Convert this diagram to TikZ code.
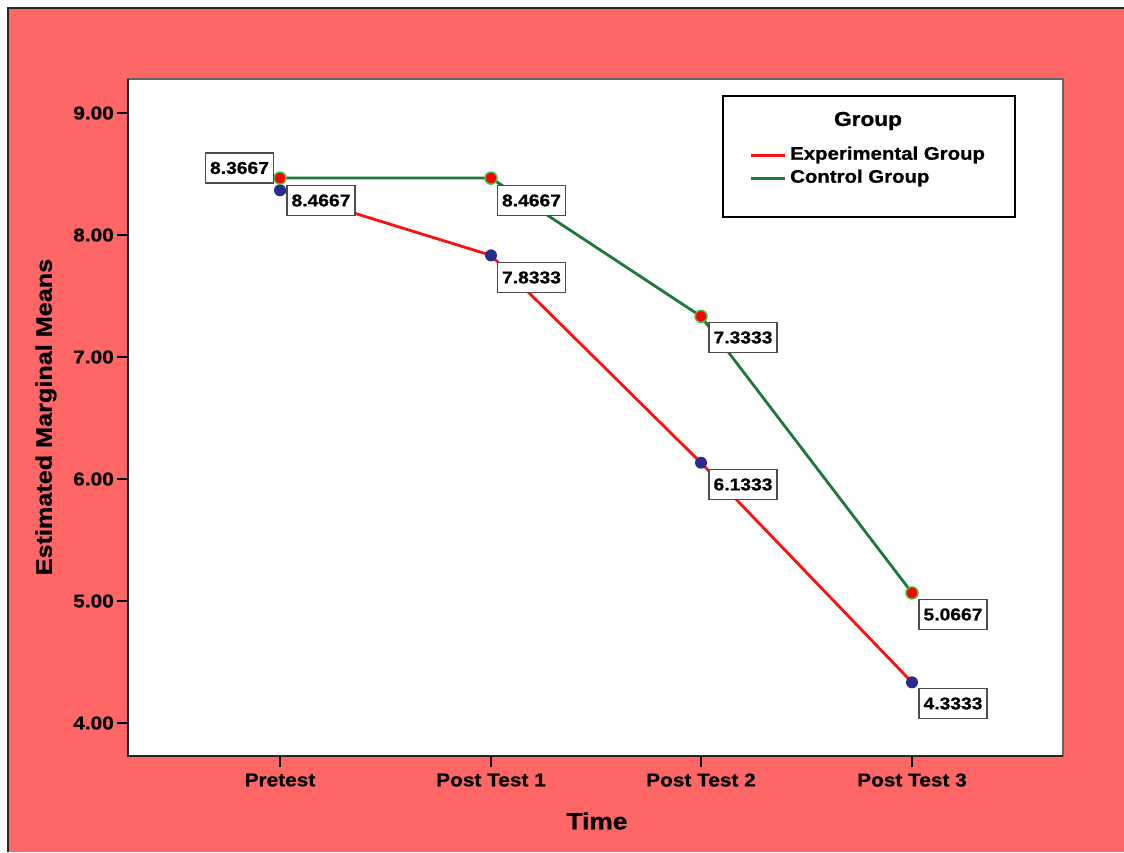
\documentclass[tikz,border=0pt]{standalone}
\usepackage{fontspec}
\setmainfont{Liberation Sans}[FakeStretch=1.12, BoldFeatures={FakeBold=0.8}]
\definecolor{bg}{RGB}{255,102,102}
\definecolor{ctrl}{RGB}{30,120,60}
\definecolor{expred}{RGB}{255,15,15}
\definecolor{navy}{RGB}{40,45,140}
\definecolor{ring}{RGB}{70,190,70}
\begin{document}
\begin{tikzpicture}[x=1pt,y=-1pt,
  ticklab/.style={font=\fontsize{18.6}{20}\selectfont\bfseries, inner sep=0pt},
  vallab/.style={draw=black!70, line width=1.6pt, fill=white, minimum width=68pt, minimum height=30pt, inner sep=0pt, font=\fontsize{17.2}{18}\selectfont\bfseries},
  bluedot/.style={circle, fill=navy, minimum size=12pt, inner sep=0pt},
  reddot/.style={circle, fill=red, draw=ring, line width=1.5pt, minimum size=12pt, inner sep=0pt},
  expline/.style={draw=expred, line width=2.8pt},
  ctrlline/.style={draw=ctrl, line width=2.8pt},
  tick/.style={line width=1.6pt, black}]
\useasboundingbox (0,0) rectangle (1124,852);
% background
\fill[white] (0,0) rectangle (1124,852);
\fill[bg] (8,8) rectangle (1124,852);
\draw[line width=2pt, black!85] (8,852) -- (8,8) -- (1124,8);
% plot area
\fill[white] (128,79) rectangle (1063,756);
\draw[line width=1.6pt, black!60] (128,79) rectangle (1063,756);
\draw[line width=2pt, black!85] (128,79) -- (128,756) -- (1063,756);
% y ticks
\foreach \v/\lab in {9/9.00,8/8.00,7/7.00,6/6.00,5/5.00,4/4.00}{
  \draw[tick] (117,{113+(9-\v)*122}) -- (128,{113+(9-\v)*122});
  \node[ticklab, anchor=east] (yt\v) at (114,{113+(9-\v)*122}) {\lab};
}
% x ticks
\foreach \i/\xx/\lab in {1/280/Pretest,2/491/Post Test 1,3/701/Post Test 2,4/912/Post Test 3}{
  \draw[tick] (\xx,756) -- (\xx,767);
  \node[ticklab] (xt\i) at (\xx,780) {\lab};
}
% axis titles
\node[rotate=90, font=\fontsize{22.5}{24}\selectfont\bfseries] (ytitle) at (46,417) {Estimated Marginal Means};
\node[font=\fontsize{23.5}{25}\selectfont\bfseries] (xtitle) at (597,821) {Time};
% data coordinates
\coordinate (e1) at (280,{113+(9-8.3667)*122});
\coordinate (e2) at (491,{113+(9-7.8333)*122});
\coordinate (e3) at (701,{113+(9-6.1333)*122});
\coordinate (e4) at (912,{113+(9-4.3333)*122});
\coordinate (c1) at (280,{113+(9-8.4667)*122});
\coordinate (c2) at (491,{113+(9-8.4667)*122});
\coordinate (c3) at (701,{113+(9-7.3333)*122});
\coordinate (c4) at (912,{113+(9-5.0667)*122});
% lines
\draw[expline] (e1) -- (e2) -- (e3) -- (e4);
\draw[ctrlline] (c1) -- (c2) -- (c3) -- (c4);
% markers
\foreach \k in {1,2,3,4}{
  \node[bluedot] (me\k) at (e\k) {};
  \node[reddot] (mc\k) at (c\k) {};
}
% value labels
\node[vallab] (l1) at (239.5,168) {8.3667};
\node[vallab] (l2) at (321,200.5) {8.4667};
\node[vallab] (l3) at (531.5,200.5) {8.4667};
\node[vallab] (l4) at (531.5,277.5) {7.8333};
\node[vallab] (l5) at (743,337.5) {7.3333};
\node[vallab] (l6) at (743,484.5) {6.1333};
\node[vallab] (l7) at (953,614.5) {5.0667};
\node[vallab] (l8) at (953,703.5) {4.3333};
% legend
\draw[line width=2.6pt, black, fill=white] (723,96) rectangle (1015,217);
\node[font=\fontsize{20.2}{22}\selectfont\bfseries] (legtitle) at (868,121) {Group};
\coordinate (le1) at (751,155);
\coordinate (le2) at (785,155);
\coordinate (lc1) at (751,178);
\coordinate (lc2) at (785,178);
\draw[expline, line width=3pt] (le1) -- (le2);
\draw[ctrlline, line width=3pt] (lc1) -- (lc2);
\node[anchor=west, inner sep=0pt, font=\fontsize{18.2}{20}\selectfont\bfseries] (legexp) at (790,155) {Experimental Group};
\node[anchor=west, inner sep=0pt, font=\fontsize{18.2}{20}\selectfont\bfseries] (legctrl) at (790,178) {Control Group};
\end{tikzpicture}
\end{document}
